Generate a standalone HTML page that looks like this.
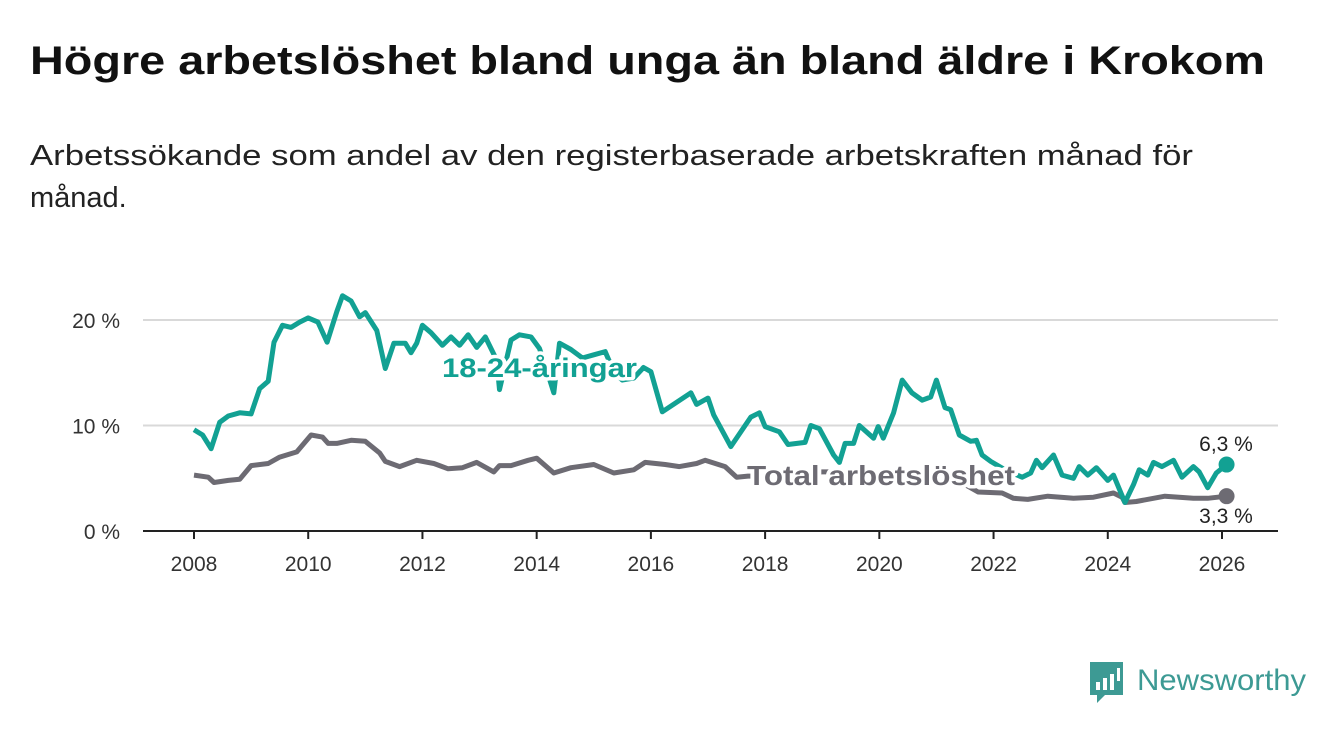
<!DOCTYPE html>
<html><head><meta charset="utf-8">
<style>
body{margin:0;background:#fff;}
svg{display:block;font-family:"Liberation Sans",sans-serif;}
</style></head>
<body>
<svg id="chart" width="1340" height="734" viewBox="0 0 1340 734">
<text x="30" y="74" font-size="40" font-weight="bold" fill="#111" textLength="1235" lengthAdjust="spacingAndGlyphs">Högre arbetslöshet bland unga än bland äldre i Krokom</text>
<text x="30" y="165" font-size="29" fill="#222" textLength="1163" lengthAdjust="spacingAndGlyphs">Arbetssökande som andel av den registerbaserade arbetskraften månad för</text>
<text x="30" y="207" font-size="29" fill="#222">månad.</text>
<g id="grid"></g>
<g id="axis"></g>
<g id="series"></g>
<g id="labels"></g>
<g>
<path d="M1090 662 h33 v33 h-18 l-8 8 v-8 h-7 z" fill="#3d9a94"/>
<rect x="1096" y="682" width="4" height="8" fill="#fff"/>
<rect x="1103" y="678" width="4" height="12" fill="#fff"/>
<rect x="1110" y="674" width="4" height="16" fill="#fff"/>
<rect x="1117" y="668" width="3" height="13" fill="#fff"/>
<text x="1137" y="690" font-size="30" fill="#3d9a94" textLength="169" lengthAdjust="spacingAndGlyphs">Newsworthy</text>
</g>
</svg>
<script>
const yTicks=[0,10,20];
const yTickLabels=["0 %","10 %","20 %"];
const xTicks=[2008,2010,2012,2014,2016,2018,2020,2022,2024,2026];
const youthDates=[2008.0,2008.15,2008.3,2008.45,2008.6,2008.8,2009.0,2009.15,2009.3,2009.4,2009.55,2009.7,2009.85,2010.0,2010.17,2010.33,2010.5,2010.6,2010.75,2010.9,2011.0,2011.2,2011.35,2011.5,2011.7,2011.8,2011.9,2012.0,2012.15,2012.35,2012.5,2012.65,2012.8,2012.95,2013.1,2013.3,2013.35,2013.55,2013.7,2013.9,2014.05,2014.15,2014.3,2014.4,2014.6,2014.8,2015.0,2015.2,2015.35,2015.5,2015.7,2015.87,2016.0,2016.2,2016.45,2016.7,2016.8,2017.0,2017.1,2017.4,2017.75,2017.9,2018.0,2018.25,2018.4,2018.7,2018.8,2018.95,2019.2,2019.3,2019.4,2019.55,2019.65,2019.9,2019.98,2020.07,2020.25,2020.4,2020.57,2020.75,2020.9,2021.0,2021.15,2021.25,2021.4,2021.6,2021.7,2021.8,2021.95,2022.2,2022.5,2022.65,2022.75,2022.85,2023.05,2023.2,2023.4,2023.5,2023.65,2023.8,2024.0,2024.1,2024.3,2024.45,2024.55,2024.7,2024.8,2024.95,2025.15,2025.3,2025.5,2025.6,2025.75,2025.9,2026.08];
const youthValues=[9.6,9.1,7.8,10.3,10.9,11.2,11.1,13.5,14.2,17.9,19.5,19.3,19.8,20.2,19.8,17.9,20.8,22.3,21.8,20.3,20.7,19.0,15.4,17.8,17.8,16.9,17.8,19.5,18.8,17.6,18.4,17.6,18.6,17.4,18.4,16.2,13.4,18.1,18.6,18.4,17.3,15.7,13.1,17.8,17.2,16.4,16.7,17.0,15.1,14.3,14.5,15.5,15.1,11.3,12.2,13.1,12.0,12.6,11.0,8.0,10.8,11.2,9.9,9.4,8.2,8.4,10.0,9.7,7.2,6.5,8.3,8.3,10.0,8.8,9.9,8.8,11.2,14.3,13.1,12.4,12.7,14.3,11.7,11.5,9.1,8.5,8.6,7.2,6.6,5.8,5.1,5.5,6.7,6.0,7.2,5.3,5.0,6.1,5.3,6.0,4.8,5.3,2.7,4.4,5.8,5.3,6.5,6.1,6.7,5.1,6.1,5.6,4.1,5.5,6.3];
const totalDates=[2008.0,2008.25,2008.35,2008.6,2008.8,2009.0,2009.3,2009.5,2009.8,2010.05,2010.25,2010.35,2010.5,2010.75,2011.0,2011.25,2011.35,2011.6,2011.9,2012.2,2012.45,2012.7,2012.95,2013.25,2013.35,2013.55,2013.85,2014.0,2014.3,2014.6,2015.0,2015.35,2015.7,2015.9,2016.25,2016.5,2016.8,2016.95,2017.3,2017.5,2017.7,2018.0,2018.5,2019.0,2019.5,2020.0,2020.5,2021.0,2021.5,2021.73,2022.15,2022.35,2022.6,2022.95,2023.4,2023.75,2024.1,2024.25,2024.3,2024.5,2025.0,2025.5,2025.75,2026.08];
const totalValues=[5.3,5.1,4.6,4.8,4.9,6.2,6.4,7.0,7.5,9.1,8.9,8.3,8.3,8.6,8.5,7.4,6.6,6.1,6.7,6.4,5.9,6.0,6.5,5.6,6.2,6.2,6.7,6.9,5.5,6.0,6.3,5.5,5.8,6.5,6.3,6.1,6.4,6.7,6.1,5.1,5.2,5.2,5.4,5.6,5.6,5.5,5.5,5.2,4.4,3.7,3.6,3.1,3.0,3.3,3.1,3.2,3.6,3.2,2.7,2.8,3.3,3.1,3.1,3.3];
const ns="http://www.w3.org/2000/svg";
const X0=143,X1=1278,Y0=531;
function xs(d){return 194+(d-2008)*(1222-194)/18;}
function ys(v){return Y0-v*10.55;}
function mk(t,attrs,parent){const e=document.createElementNS(ns,t);for(const k in attrs)e.setAttribute(k,attrs[k]);parent.appendChild(e);return e;}
const grid=document.getElementById('grid'),axis=document.getElementById('axis'),series=document.getElementById('series'),labels=document.getElementById('labels');
yTicks.forEach((v,i)=>{
 if(v>0){const g=mk('line',{x1:X0,x2:X1,y1:ys(v),y2:ys(v),stroke:'#d9d9d9','stroke-width':2},grid);
 
 }
 const t=mk('text',{x:120,y:ys(v)+8,'text-anchor':'end','font-size':21,fill:'#333'},axis);t.textContent=yTickLabels[i];
 
 
});
const ax=mk('line',{x1:X0,x2:X1,y1:Y0,y2:Y0,stroke:'#222','stroke-width':2},axis);


xTicks.forEach(yv=>{
 mk('line',{x1:xs(yv),x2:xs(yv),y1:Y0,y2:Y0+8,stroke:'#222','stroke-width':2},axis);
 const t=mk('text',{x:xs(yv),y:571,'text-anchor':'middle','font-size':21,fill:'#333'},axis);t.textContent=yv;
 
 
});
function line(dates,vals,col,name){
 const p=mk('path',{d:dates.map((d,i)=>(i?'L':'M')+xs(d).toFixed(1)+' '+ys(vals[i]).toFixed(1)).join(''),fill:'none',stroke:col,'stroke-width':5,'stroke-linejoin':'round'},series);
 
 
 const n=dates.length-1;
 const c=mk('circle',{cx:xs(dates[n]),cy:ys(vals[n]),r:8,fill:col},series);
 
 
}
line(totalDates,totalValues,'#6d6b73','total-line');
line(youthDates,youthValues,'#12a193','youth-line');
function lab(txt,x,y,size,col,w,anchor,name,bold){
 const t=mk('text',{x:x,y:y,'font-size':size,fill:col,'font-weight':bold?'bold':'normal','text-anchor':anchor,stroke:'#fff','stroke-width':7,'paint-order':'stroke','stroke-linejoin':'round'},labels);
 if(w){t.setAttribute('textLength',w);t.setAttribute('lengthAdjust','spacingAndGlyphs');}
 t.textContent=txt;
 
 
}
lab('18-24-åringar',442,377,27,'#12a193',195,'start','youth-series-label',true);
lab('Total arbetslöshet',747,485,28,'#6d6b73',268,'start','total-series-label',true);
lab('6,3 %',1226,451,21,'#222',0,'middle','youth-end-value',false);
lab('3,3 %',1226,523,21,'#222',0,'middle','total-end-value',false);
</script>
</body></html>
